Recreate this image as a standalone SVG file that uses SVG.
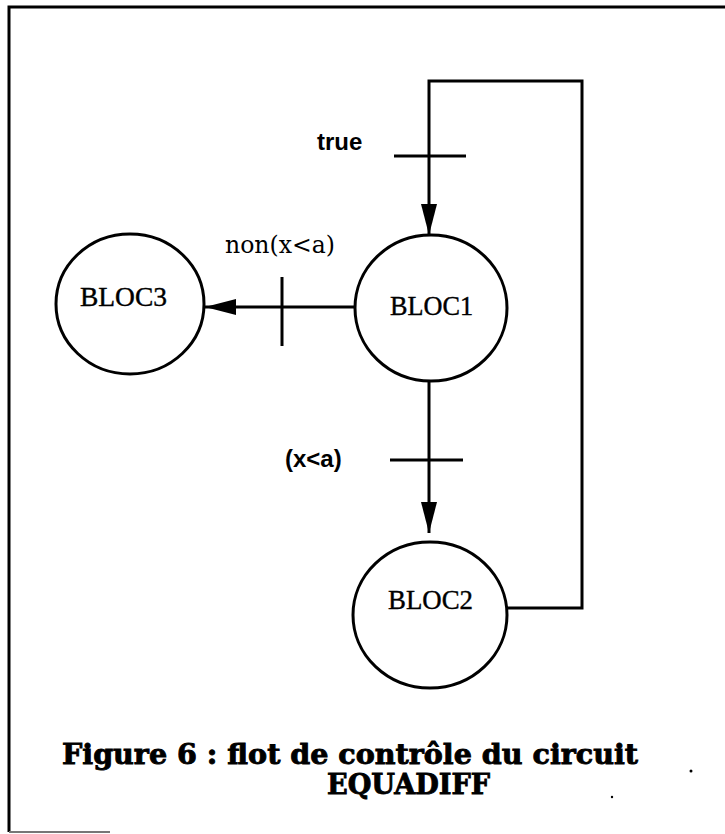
<svg xmlns="http://www.w3.org/2000/svg" width="725" height="834" viewBox="0 0 725 834">
<style>
.ln{stroke:#000;stroke-width:3;fill:none}
.node{fill:#fff;stroke:#000;stroke-width:3}
.bl{font-family:"Liberation Serif","Times New Roman",serif;font-size:27px;fill:#000;stroke:#000;stroke-width:0.4}
.lab{font-family:"Liberation Sans",Arial,sans-serif;font-weight:bold;font-size:24px;fill:#000}
.ser{font-family:"DejaVu Serif","Liberation Serif",serif;font-size:24px;fill:#000}
.cap{font-family:"DejaVu Serif","Liberation Serif",serif;font-weight:bold;font-size:28px;fill:#000;stroke:#000;stroke-width:0.9}
</style>
<defs>
<marker id="ah" markerUnits="userSpaceOnUse" markerWidth="32" markerHeight="18" refX="31" refY="9" orient="auto">
<path d="M0,1 L31,9 L0,17 z" fill="#000"/>
</marker>
</defs>
<rect width="725" height="834" fill="#fff"/>
<g id="frame">
<path class="ln" d="M9,832 L9,7 L725,7"/>
<path d="M9,832 L110,832" stroke="#777" stroke-width="2" fill="none"/>
</g>
<g id="connectors">
<path class="ln" d="M506,608 L582,608 L582,81 L429,81 L429,235" marker-end="url(#ah)"/>
<path class="ln" d="M354,307 L205,307" marker-end="url(#ah)"/>
<path class="ln" d="M429,381 L429,533" marker-end="url(#ah)"/>
<path class="ln" d="M394,156 L466,156"/>
<path class="ln" d="M282,277 L282,346"/>
<path class="ln" d="M390,460 L463,460"/>
<text class="lab" x="317" y="150">true</text>
<text class="ser" x="225" y="253" textLength="110" lengthAdjust="spacingAndGlyphs">non(x&lt;a)</text>
<text class="lab" x="285" y="467">(x&lt;a)</text>
</g>
<g id="BLOC1">
<ellipse class="node" cx="431" cy="308" rx="76" ry="73"/>
<text class="bl" x="390" y="315" textLength="83" lengthAdjust="spacingAndGlyphs">BLOC1</text>
</g>
<g id="BLOC3">
<ellipse class="node" cx="130" cy="304" rx="74" ry="70"/>
<text class="bl" x="80" y="306" textLength="87" lengthAdjust="spacingAndGlyphs">BLOC3</text>
</g>
<g id="BLOC2">
<ellipse class="node" cx="430" cy="615" rx="77" ry="73"/>
<text class="bl" x="388" y="609" textLength="85" lengthAdjust="spacingAndGlyphs">BLOC2</text>
</g>
<g id="caption">
<text class="cap" x="62" y="764" textLength="576" lengthAdjust="spacingAndGlyphs">Figure 6 : flot de contrôle du circuit</text>
<text class="cap" x="327" y="794" textLength="163" lengthAdjust="spacingAndGlyphs">EQUADIFF</text>
<circle cx="691" cy="771" r="1.5" fill="#000"/>
<circle cx="612" cy="797" r="1.2" fill="#000"/>
</g>
</svg>
